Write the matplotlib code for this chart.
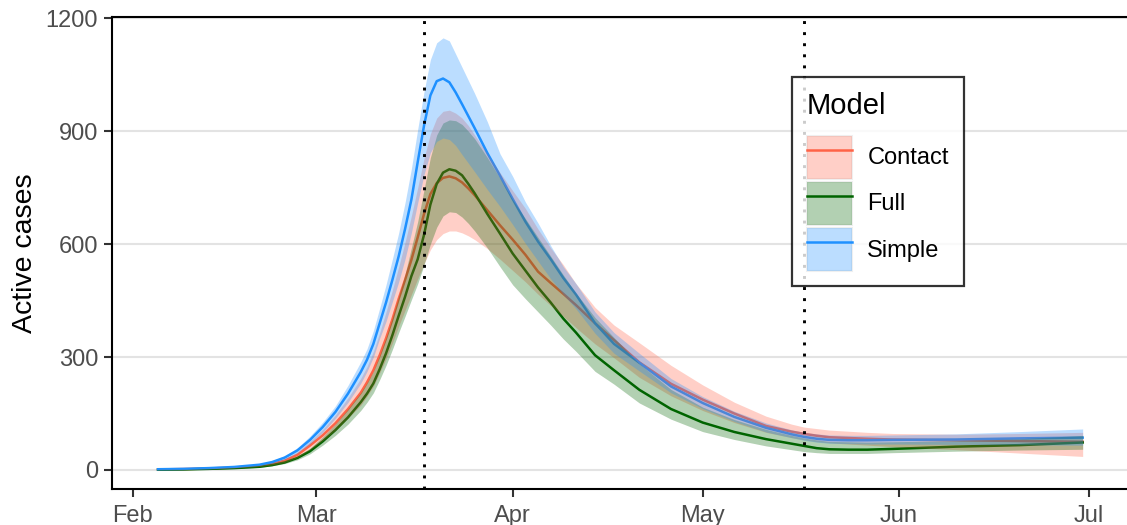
import matplotlib
matplotlib.use("Agg")
import matplotlib.pyplot as plt
import matplotlib.dates as mdates
from matplotlib.patches import Patch
from matplotlib.lines import Line2D
import numpy as np

# ---------------- data ----------------
dates = ["2020-02-05", "2020-02-09", "2020-02-13", "2020-02-17", "2020-02-21", "2020-02-23",
         "2020-02-25", "2020-02-27", "2020-02-29", "2020-03-02", "2020-03-04", "2020-03-06",
         "2020-03-08",
         "2020-03-09", "2020-03-10", "2020-03-11", "2020-03-12", "2020-03-13", "2020-03-14",
         "2020-03-15", "2020-03-16", "2020-03-17", "2020-03-18", "2020-03-19", "2020-03-20",
         "2020-03-21", "2020-03-22", "2020-03-23", "2020-03-24", "2020-03-25", "2020-03-26",
         "2020-03-28", "2020-03-30", "2020-04-01", "2020-04-03", "2020-04-05", "2020-04-07",
         "2020-04-09", "2020-04-11",
         "2020-04-14", "2020-04-17", "2020-04-21", "2020-04-26", "2020-05-01", "2020-05-06",
         "2020-05-11", "2020-05-15", "2020-05-17", "2020-05-19", "2020-05-21", "2020-05-24",
         "2020-05-27", "2020-05-31", "2020-06-10", "2020-06-20", "2020-06-30"]

simple_mean = [2, 3, 5, 8, 14, 21, 33, 52, 80, 114, 154, 203, 260,
               293, 335, 390, 445, 505, 568, 640, 718, 818, 915, 995, 1033, 1040, 1030, 1003,
               972, 940, 908,
               842, 782, 720, 660, 607, 560, 510, 466,
               390, 335, 285, 222, 178, 141, 112, 95, 88, 83, 80, 79, 79, 80, 81, 84, 86]
simple_hi = [2.5, 4, 6, 9.5, 16, 24, 38, 59, 90, 127, 170, 225, 287,
             322, 370, 430, 492, 560, 630, 710, 800, 905, 1005, 1090, 1135, 1148, 1140, 1105,
             1070, 1035, 1000,
             925, 840, 780, 712, 656, 596, 540, 495,
             420, 365, 310, 243, 195, 156, 125, 107, 100, 96, 93, 92, 92, 93, 96, 102, 109]
simple_lo = [1.5, 2.5, 4, 7, 12, 18, 28, 45, 70, 100, 137, 180, 230,
             262, 300, 350, 395, 447, 500, 560, 630, 710, 785, 843, 873, 882, 878, 862,
             838, 815, 792,
             745, 700, 652, 602, 555, 508, 466, 428,
             363, 310, 263, 205, 163, 129, 101, 86, 79, 74, 71, 70, 69, 69, 68, 67, 66]

contact_mean = [1.5, 2.5, 4, 6.5, 11, 16, 25, 40, 65, 92, 124, 162, 205,
                233, 265, 305, 350, 400, 455, 505, 558, 618, 680, 733, 762, 776, 780, 775,
                764, 748, 730,
                690, 650, 612, 572, 527, 497, 468, 438,
                390, 345, 286, 229, 187, 150, 117, 102, 96, 91, 87, 85, 83, 81, 79, 77, 75]
contact_hi = [2, 3, 5, 8, 13, 19, 30, 48, 76, 108, 146, 192, 243,
              275, 315, 365, 420, 478, 540, 605, 675, 750, 828, 893, 935, 953, 956, 948,
              935, 915, 890,
              840, 790, 742, 695, 640, 590, 545, 495,
              432, 385, 338, 278, 226, 180, 143, 122, 114, 110, 106, 103, 100, 97, 95, 97, 100]
contact_lo = [1, 2, 3, 5, 9, 13, 20, 33, 54, 78, 105, 138, 172,
              196, 222, 258, 295, 337, 382, 424, 466, 508, 548, 585, 612, 628, 635, 635,
              630, 622, 612,
              588, 560, 530, 500, 467, 437, 408, 378,
              335, 298, 246, 197, 158, 126, 100, 86, 80, 75, 72, 69, 66, 62, 54, 45, 36]

full_mean = [1, 1.5, 3, 5, 8.5, 13, 20, 32, 50, 76, 106, 140, 180,
             203, 230, 268, 310, 358, 410, 460, 515, 560, 625, 705, 760, 790, 799, 795,
             783, 760, 735,
             680, 628, 575, 530, 485, 445, 402, 365,
             305, 265, 213, 162, 126, 101, 82, 70, 64, 58, 55, 54, 54, 56, 62, 66, 73]
full_hi = [1.5, 2, 3.5, 6, 10, 15, 23, 37, 58, 88, 122, 162, 205,
           232, 262, 305, 352, 405, 462, 520, 590, 660, 745, 830, 890, 922, 930, 928,
           918, 900, 880,
           830, 775, 718, 668, 618, 568, 518, 470,
           405, 352, 282, 214, 167, 134, 108, 92, 85, 80, 76, 75, 74, 75, 78, 83, 92]
full_lo = [0.5, 1, 2.5, 4, 7, 11, 17, 27, 43, 66, 92, 122, 158,
           180, 205, 240, 278, 320, 365, 408, 452, 495, 545, 600, 645, 675, 686, 684,
           672, 655, 635,
           590, 540, 492, 455, 420, 385, 348, 315,
           262, 228, 178, 135, 102, 81, 64, 54, 49, 46, 44, 44, 44, 46, 50, 53, 55]

models = ["Contact", "Full", "Simple"]
model_colors = ["#FF6347", "#006400", "#1E90FF"]
interventions = ["2020-03-18", "2020-05-17"]
y_ticks = [0, 300, 600, 900, 1200]
y_label = "Active cases"
legend_title = "Model"

# ---------------- plot ----------------
plt.rcParams['font.family'] = ['Liberation Sans', 'DejaVu Sans']

fig = plt.figure(figsize=(11.27, 5.25), dpi=100)
ax = fig.add_axes([112 / 1127, 1 - 489.3 / 525, 1 - 112 / 1127, (489.3 - 16.5) / 525])

x = np.array(dates, dtype="datetime64[D]")
means = [contact_mean, full_mean, simple_mean]
los = [contact_lo, full_lo, simple_lo]
his = [contact_hi, full_hi, simple_hi]

for m, c in zip(means, model_colors):
    ax.plot(x, m, color=c, lw=1.8, zorder=3, solid_joinstyle="round")
for lo, hi, c in zip(los, his, model_colors):
    ax.fill_between(x, lo, hi, color=c, alpha=0.3, lw=0, zorder=4)

for d in interventions:
    ax.axvline(np.datetime64(d), color="black", lw=2.1, ls=(0, (1, 2.8)), zorder=5)

start = mdates.date2num(np.datetime64("2020-02-01"))
ax.set_xlim(start - 3.27, start + 157.0)
ax.set_ylim(-51.3, 1204.8)
ax.set_yticks(y_ticks)
ax.xaxis.set_major_locator(mdates.MonthLocator())
ax.xaxis.set_major_formatter(mdates.DateFormatter("%b"))

ax.grid(axis="y", color="#E3E3E3", lw=1.5, zorder=0)
ax.grid(axis="x", visible=False)
ax.set_axisbelow(True)

for s in ["left", "bottom", "top"]:
    ax.spines[s].set_linewidth(1.5)
    ax.spines[s].set_color("black")
ax.spines["right"].set_visible(False)

ax.tick_params(axis="both", which="major", length=5.5, width=1.5, color="#333333",
               labelsize=17, labelcolor="#4D4D4D")
ax.tick_params(axis="x", pad=5.5)
ax.tick_params(axis="y", pad=4.5)

ax.set_ylabel(y_label, fontsize=20.5, color="black")
ax.yaxis.set_label_coords(-0.073, 0.5)

handles = []
for c in model_colors:
    handles.append((Patch(facecolor="white", edgecolor="#EFEFEF", lw=1.5),
                    Patch(facecolor=c, alpha=0.3, edgecolor="none"),
                    Line2D([], [], color=c, lw=1.8)))
leg = ax.legend(handles, models, title=legend_title, title_fontsize=21, fontsize=17,
                loc="upper left", bbox_to_anchor=(791.7 / 1127, 1 - 77.3 / 525),
                bbox_transform=fig.transFigure, frameon=True, fancybox=False,
                handlelength=1.906, handleheight=2.43, labelspacing=0.127,
                handletextpad=0.66, borderpad=0.635, borderaxespad=0, alignment="left")
leg.get_frame().set_edgecolor("black")
leg.get_frame().set_linewidth(1.6)
leg.set_zorder(10)
leg._legend_box.sep = 11

fig.savefig("out.png", dpi=100)
